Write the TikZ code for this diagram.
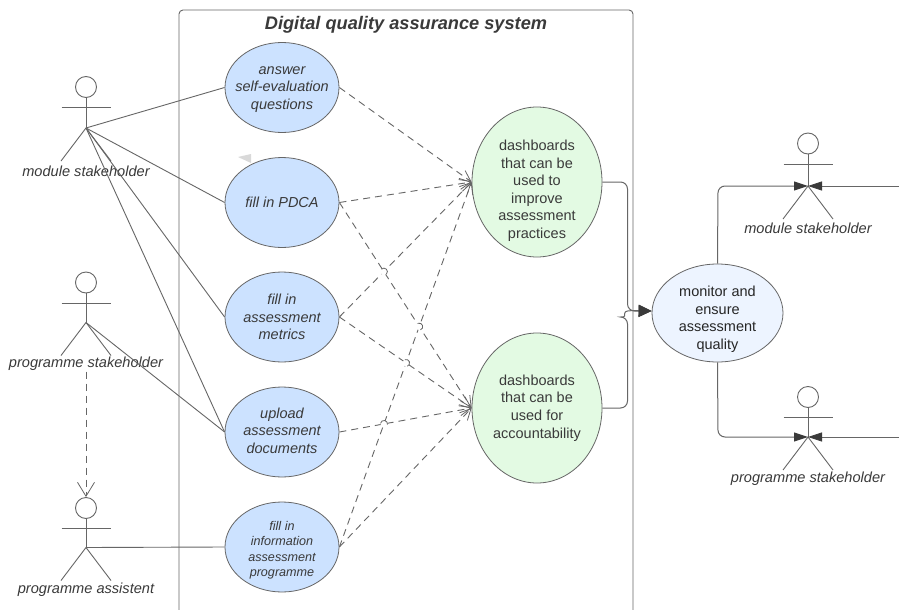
\documentclass[tikz,border=0pt]{standalone}
\usepackage{fontspec}
\setmainfont{Liberation Sans}
\usetikzlibrary{arrows.meta,shapes.geometric,calc}
\definecolor{ink}{HTML}{3A3A3A}
\definecolor{linec}{HTML}{666666}
\definecolor{bluef}{HTML}{CCE2FF}
\definecolor{greenf}{HTML}{E3FAE3}
\definecolor{paleb}{HTML}{EDF4FF}
\tikzset{
  uc/.style={ellipse,draw=linec,line width=.8pt,inner sep=-12pt,align=center,text=ink,font=\fontsize{14.5}{17.6}\selectfont},
  ucblue/.style={uc,fill=bluef,minimum width=114pt,minimum height=90pt,font=\fontsize{14.5}{17.6}\selectfont\itshape},
  ucgreen/.style={uc,fill=greenf,minimum width=130pt,minimum height=150pt},
  lab/.style={text=ink,font=\fontsize{14.6}{18}\selectfont\itshape,inner sep=1pt},
  assoc/.style={draw=linec,line width=.9pt},
  dep/.style={draw=linec,line width=.9pt,dash pattern=on 7pt off 5pt,-{Straight Barb[length=11pt,width=11pt,line width=.8pt]}},
  flow/.style={draw=linec,line width=1pt,rounded corners=7pt,-{Triangle[length=13pt,width=12pt,color=ink]}},
  flowa/.style={flow,-{Triangle[length=14pt,width=9pt,color=ink]}},
  limb/.style={draw=linec,line width=.9pt},
  head/.style={circle,draw=linec,line width=.9pt,fill=white,minimum size=21pt,inner sep=0pt},
}
% #1 name, #2 x, #3 y of head centre, #4 label, #5 label y, #6 hip offset
\newcommand{\actor}[6]{%
  \node[head] (#1h) at (#2,#3) {};
  \coordinate (#1s) at (#2,#3+20.5);
  \coordinate (#1c) at (#2,#3+#6);
  \draw[limb] (#1h.south) -- (#1c);
  \draw[limb] ($(#1s)+(-24.5,0)$) -- ($(#1s)+(24.5,0)$);
  \draw[limb] ($(#1c)+(-25,33)$) -- (#1c) -- ($(#1c)+(25,33)$);
  \node[lab] (#1l) at (#2,#5) {#4};
}
\newcommand{\hopat}[5]{%
  \coordinate (hp) at (intersection cs:first line={(#1)--(#2)},second line={(#3)--(#4)});
  \fill[white] (hp) circle (3.5pt);
  \draw[linec,line width=.8pt,shift={(hp)},rotate=#5] (-3.5,0) arc (180:360:3.5);
}
\begin{document}
\begin{tikzpicture}[x=1pt,y=-1pt]
\useasboundingbox (0,0) rectangle (899,610);
\fill[white] (0,0) rectangle (899,610);
\clip (0,0) rectangle (899,610);
% system boundary
\draw[linec,line width=.9pt,rounded corners=4pt] (179,640) -- (179,10) -- (633,10) -- (633,640);
\node[text=ink,font=\fontsize{18.2}{20}\selectfont\bfseries\itshape,inner sep=0pt] (title) at (406,24.5) {Digital quality assurance system};
% faint triangle
\fill[gray!30] (238,157) -- (251,154) -- (251,163) -- cycle;
% use cases
\node[ucblue] (a) at (282,87.5) {\rule{0pt}{11.5pt}answer\\self-evaluation\\questions};
\node[ucblue] (b) at (282,202.5) {fill in PDCA};
\node[ucblue] (c) at (282,317) {fill in\\assessment\\metrics};
\node[ucblue] (d) at (282,432) {upload\\assessment\\documents\rule[-3pt]{0pt}{3pt}};
\node[ucblue,font=\fontsize{12.6}{15.4}\selectfont\itshape] (e) at (282,547) {\rule{0pt}{15.5pt}fill in\\information\\assessment\\programme};
\node[ucgreen] (g) at (537,182) {\rule{0pt}{28pt}dashboards\\that can be\\used to\\improve\\assessment\\practices};
\node[ucgreen] (h) at (537,408) {dashboards\\that can be\\used for\\accountability};
\node[uc,fill=paleb,text=black!85,minimum width=131pt,minimum height=98pt] (m) at (717.5,313) {\rule{0pt}{23pt}monitor and\\ensure\\assessment\\quality};
% actors
\actor{ms}{86}{87}{module stakeholder}{171}{41}
\actor{ps}{86}{282.5}{programme stakeholder}{363.5}{40}
\actor{pa}{86}{508}{programme assistent}{589.5}{39.5}
\actor{rm}{808}{143.5}{module stakeholder}{228}{42.5}
\actor{rp}{808}{397}{programme stakeholder}{478.5}{40}
% associations
\draw[assoc] (msc) -- (a.west);
\draw[assoc] (msc) -- (b.west);
\draw[assoc] (msc) -- (c.west);
\draw[assoc] (msc) -- (d.west);
\draw[assoc] (psc) -- (d.west);
\draw[assoc] (pac) -- (e.west);
\draw[dep,-{Straight Barb[length=14pt,width=17pt,line width=.8pt]}] (psl.south) -- (pah.north);
% dependencies
\draw[dep] (a.east) -- (g.west);
\draw[dep] (b.east) -- (g.west);
\draw[dep] (c.east) -- (g.west);
\draw[dep] (e.east) -- (g.west);
\draw[dep] (b.east) -- (h.west);
\draw[dep] (c.east) -- (h.west);
\draw[dep] (d.east) -- (h.west);
\draw[dep] (e.east) -- (h.west);
\hopat{c.east}{g.west}{b.east}{h.west}{-45}
\hopat{b.east}{h.west}{e.east}{g.west}{-70}
\hopat{c.east}{h.west}{e.east}{g.west}{-70}
\hopat{e.east}{g.west}{d.east}{h.west}{-10}
% flows
\coordinate (mj) at (m.west |- 0,311);
\draw[flow] (g.east) -- (627.5,182) -- (627.5,311) -- (mj);
\draw[flow,rounded corners=0pt] (h.east) [rounded corners=7pt] -- (627.5,408) -- (627.5,317) [rounded corners=0pt] arc (90:270:3) -- (633,310.5) -- (mj);
% outgoing to right-hand actors
\coordinate (rmfree) at (899,186);
\coordinate (rpfree) at (899,437);
\draw[flowa] (m.north) -- (718,186) -- (rmc);
\draw[flowa,line width=.8pt] (rmfree) -- (rmc);
\draw[flowa] (m.south) -- (718,437) -- (rpc);
\draw[flowa,line width=.8pt] (rpfree) -- (rpc);
\end{tikzpicture}
\end{document}
